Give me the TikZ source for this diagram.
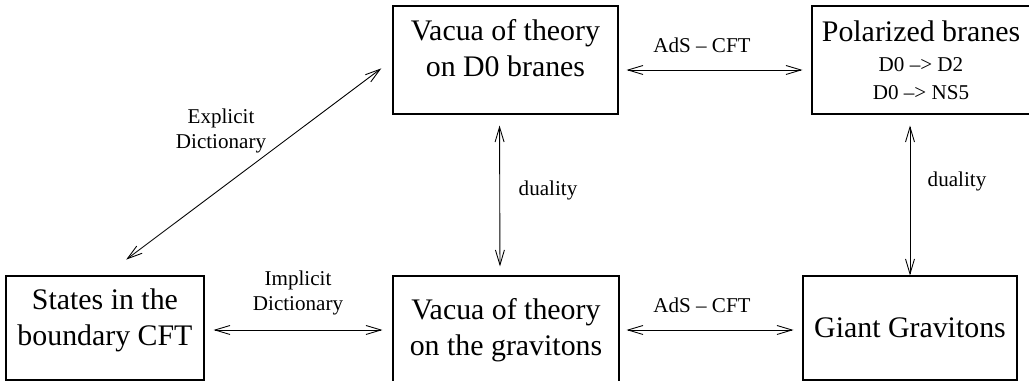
\documentclass[tikz,border=0pt]{standalone}
\usepackage{fontspec}
\setmainfont{Liberation Serif}
\usetikzlibrary{positioning, arrows.meta}
\tikzset{
  bblock/.style = {draw, line width=0.6pt, align=center, inner sep=0pt, font=\fontsize{17}{20.5}\selectfont},
  lbl/.style    = {align=center, inner sep=0pt, font=\fontsize{12}{14}\selectfont},
  twoway/.style = {{Straight Barb[length=3mm, width=1.8mm]}-{Straight Barb[length=3mm, width=1.8mm]}, line width=0.5pt}
}

\begin{document}
\begin{tikzpicture}[x=0.02cm, y=-0.02cm]
  \useasboundingbox (0,0) rectangle (1029,381);
  \clip (0,0) rectangle (1029,381);

  \node[bblock, minimum width=4.5cm, minimum height=2.16cm, text depth=0.48cm] (dzero) at (505.5,60) {Vacua of theory\\on D0 branes};
  \node[bblock, minimum width=4.36cm, minimum height=2.16cm] (pol) at (921,60)
    {Polarized branes\\[-3.5pt]{\fontsize{12}{14}\selectfont D0 --> D2}\\[-4.5pt]{\fontsize{12}{14}\selectfont D0 --> NS5}};
  \node[bblock, minimum width=3.96cm, minimum height=2.08cm, text depth=0.44cm] (states) at (105,328) {States in the\\boundary CFT};
  \node[bblock, minimum width=4.52cm, minimum height=2.16cm] (vac) at (506,330) {Vacua of theory\\on the gravitons};
  \node[bblock, minimum width=4.28cm, minimum height=2.08cm] (giant) at (910,328) {Giant Gravitons};

  % connectors
  \draw[twoway, shorten <=0.53cm, shorten >=0.28cm] (states.north) -- (dzero.west);
  \draw[twoway, shorten <=0.16cm, shorten >=0.18cm] ([yshift=-0.2cm]dzero.east) -- ([yshift=-0.2cm]pol.west);
  \draw[twoway, shorten <=0.22cm, shorten >=0.18cm] ([xshift=-0.12cm]dzero.south) -- ([xshift=-0.12cm]vac.north);
  \draw[twoway, shorten <=0.22cm] (pol.south -| giant.north) -- (giant.north);
  \draw[twoway, shorten <=0.18cm, shorten >=0.2cm] (vac.west -| states.east) -- (vac.west);
  \draw[twoway, shorten <=0.14cm, shorten >=0.18cm] (vac.east) -- (giant.west |- vac.east);

  % labels
  \node[lbl] (explicit) at (221,131) {Explicit\\Dictionary};
  \node[lbl] (implicit) at (298,293) {Implicit\\Dictionary};
  \node[lbl] (dualmid) at (548,190) {duality};
  \node[lbl] (dualright) at (957,181) {duality};
  \node[lbl] (adstop) at (702,45) {AdS -- CFT};
  \node[lbl] (adsbot) at (702,305) {AdS -- CFT};
\end{tikzpicture}
\end{document}
